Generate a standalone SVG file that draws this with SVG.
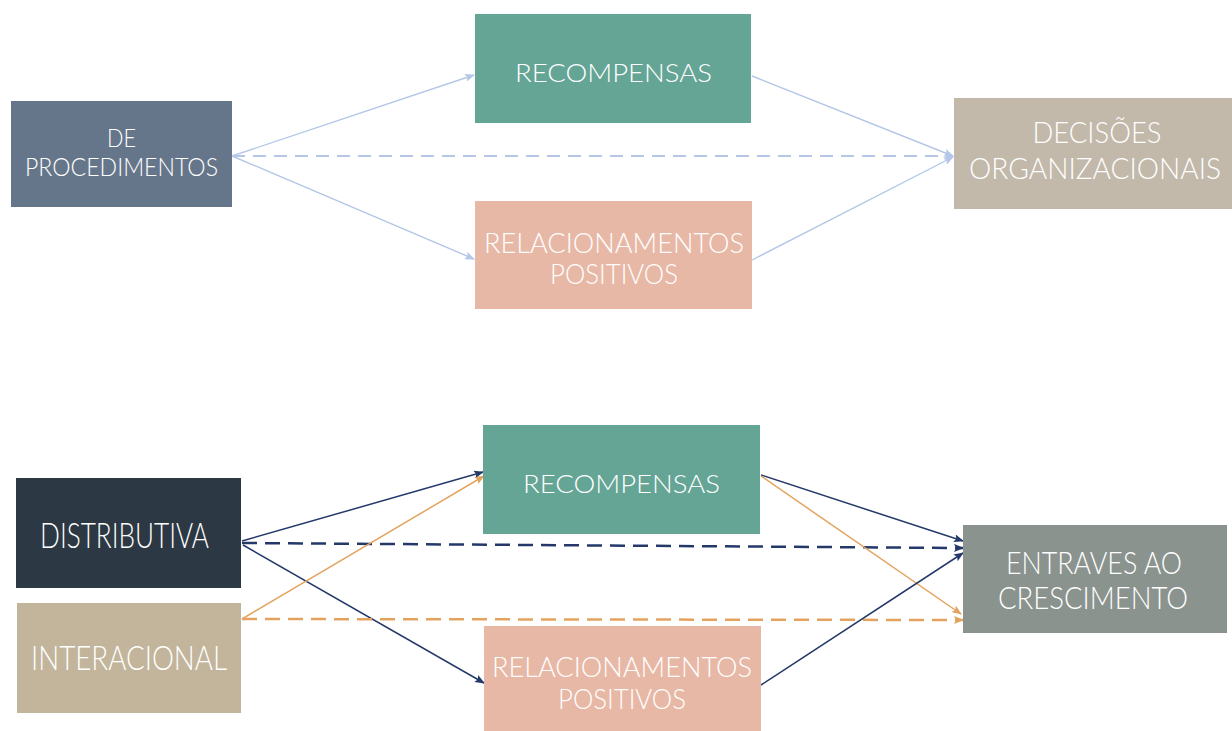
<svg xmlns="http://www.w3.org/2000/svg" width="1232" height="731" viewBox="0 0 1232 731">
<style>
text{font-family:Lato,"Liberation Sans",sans-serif;font-weight:300;fill:#ffffff;text-anchor:middle}
.lb{stroke:#b4c7e7;fill:none;stroke-width:1.4}
.lbd{stroke:#b4c7e7;fill:none;stroke-width:2.2;stroke-dasharray:13 8}
.nv{stroke:#24396a;fill:none;stroke-width:1.5}
.nvd{stroke:#24396a;fill:none;stroke-width:2.5;stroke-dasharray:15 8}
.or{stroke:#e3a35f;fill:none;stroke-width:1.5}
.ord{stroke:#e3a35f;fill:none;stroke-width:2.5;stroke-dasharray:15 8}
</style>
<defs>
<marker id="ab" markerWidth="10" markerHeight="8" refX="9" refY="4" orient="auto" markerUnits="userSpaceOnUse"><path d="M0,0 L10,4 L0,8 L2,4 Z" fill="#b4c7e7"/></marker>
<marker id="an" markerWidth="10" markerHeight="8" refX="9" refY="4" orient="auto" markerUnits="userSpaceOnUse"><path d="M0,0 L10,4 L0,8 L2,4 Z" fill="#24396a"/></marker>
<marker id="ao" markerWidth="10" markerHeight="8" refX="9" refY="4" orient="auto" markerUnits="userSpaceOnUse"><path d="M0,0 L10,4 L0,8 L2,4 Z" fill="#e3a35f"/></marker>
</defs>
<rect width="1232" height="731" fill="#ffffff"/>
<g id="connectors">
<line class="lb" x1="232" y1="156" x2="474" y2="75" marker-end="url(#ab)"/>
<line class="lbd" x1="232" y1="156" x2="953" y2="156" marker-end="url(#ab)"/>
<line class="lb" x1="232" y1="156" x2="474" y2="259" marker-end="url(#ab)"/>
<line class="lb" x1="752" y1="76" x2="953" y2="156" marker-end="url(#ab)"/>
<line class="lb" x1="752" y1="260" x2="953" y2="157" marker-end="url(#ab)"/>
<line class="nv" x1="242" y1="541" x2="483" y2="472" marker-end="url(#an)"/>
<line class="nvd" x1="242" y1="543" x2="963" y2="548" marker-end="url(#an)"/>
<line class="nv" x1="243" y1="545" x2="484" y2="683" marker-end="url(#an)"/>
<line class="or" x1="242" y1="619" x2="484" y2="476" marker-end="url(#ao)"/>
<line class="ord" x1="242" y1="619" x2="963" y2="620" marker-end="url(#ao)"/>
<line class="nv" x1="761" y1="475" x2="963" y2="541" marker-end="url(#an)"/>
<line class="or" x1="761" y1="476" x2="961" y2="614" marker-end="url(#ao)"/>
<line class="nv" x1="761" y1="685" x2="963" y2="553" marker-end="url(#an)"/>
</g>
<g id="n-procedimentos">
<rect x="11" y="101" width="221" height="106" fill="#66768a"/>
<text x="121.5" y="146.5" font-size="25" textLength="29" lengthAdjust="spacingAndGlyphs">DE</text>
<text x="121.5" y="176" font-size="25" textLength="193" lengthAdjust="spacingAndGlyphs">PROCEDIMENTOS</text>
</g>
<g id="n-recompensas-top">
<rect x="475" y="14" width="276" height="109" fill="#65a596"/>
<text x="613.5" y="81.5" font-size="26" textLength="197" lengthAdjust="spacingAndGlyphs">RECOMPENSAS</text>
</g>
<g id="n-relacionamentos-top">
<rect x="475" y="201" width="277" height="108" fill="#e8b8a6"/>
<text x="614" y="252.5" font-size="27" textLength="260" lengthAdjust="spacingAndGlyphs">RELACIONAMENTOS</text>
<text x="614" y="284" font-size="27" textLength="128" lengthAdjust="spacingAndGlyphs">POSITIVOS</text>
</g>
<g id="n-decisoes">
<rect x="954" y="98" width="278" height="111" fill="#c2b9ab"/>
<text x="1097" y="143.3" font-size="30" textLength="129" lengthAdjust="spacingAndGlyphs">DECISÕES</text>
<text x="1095" y="179" font-size="29" textLength="252" lengthAdjust="spacingAndGlyphs">ORGANIZACIONAIS</text>
</g>
<g id="n-distributiva">
<rect x="16" y="478" width="225" height="110" fill="#2c3843"/>
<text x="124.5" y="547.5" font-size="35" textLength="169" lengthAdjust="spacingAndGlyphs">DISTRIBUTIVA</text>
</g>
<g id="n-interacional">
<rect x="17" y="603" width="224" height="110" fill="#c2b59b"/>
<text x="129" y="670" font-size="33" textLength="196" lengthAdjust="spacingAndGlyphs">INTERACIONAL</text>
</g>
<g id="n-recompensas-bottom">
<rect x="483" y="425" width="277" height="109" fill="#65a596"/>
<text x="621.5" y="492.5" font-size="26" textLength="197" lengthAdjust="spacingAndGlyphs">RECOMPENSAS</text>
</g>
<g id="n-relacionamentos-bottom">
<rect x="484" y="626" width="277" height="105" fill="#e8b8a6"/>
<text x="622" y="677" font-size="27" textLength="260" lengthAdjust="spacingAndGlyphs">RELACIONAMENTOS</text>
<text x="622" y="709" font-size="27" textLength="128" lengthAdjust="spacingAndGlyphs">POSITIVOS</text>
</g>
<g id="n-entraves">
<rect x="963" y="525" width="264" height="108" fill="#8a938e"/>
<text x="1094" y="574" font-size="31" textLength="176" lengthAdjust="spacingAndGlyphs">ENTRAVES AO</text>
<text x="1093" y="609" font-size="31" textLength="190" lengthAdjust="spacingAndGlyphs">CRESCIMENTO</text>
</g>
</svg>
